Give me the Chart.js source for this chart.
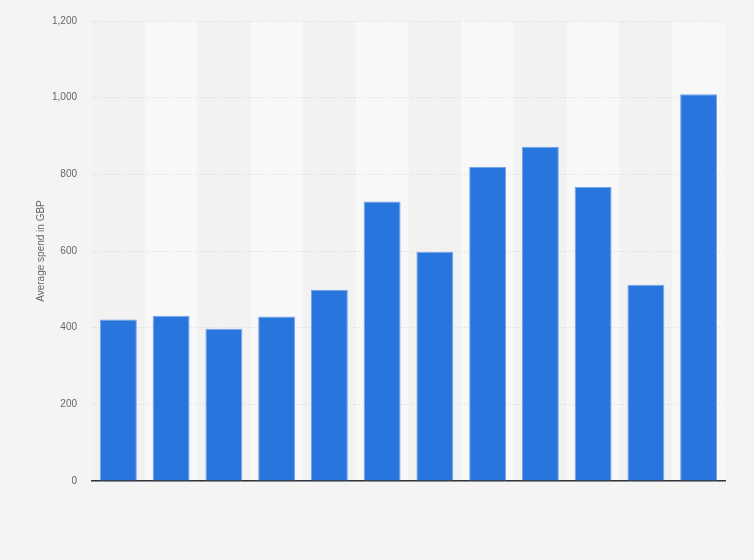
<!DOCTYPE html>
<html>
<head>
<meta charset="utf-8">
<script src="https://cdn.jsdelivr.net/npm/chart.js@4.4.0/dist/chart.umd.min.js"></script>
<style>
html,body{margin:0;padding:0;background:#f4f4f4;}
#wrap{width:754px;height:560px;position:relative;}
</style>
</head>
<body>
<div id="wrap"><canvas id="c" width="754" height="560"></canvas></div>
<script>
const categories = ["1","2","3","4","5","6","7","8","9","10","11","12"];
const values = [421, 431, 397, 429, 499, 729, 598, 820, 872, 767, 512, 1009];
const yTicks = [0, 200, 400, 600, 800, 1000, 1200];
const yTitle = "Average spend in GBP";

const bandPlugin = {
  id: 'bands',
  beforeDraw(chart) {
    const {ctx, chartArea} = chart;
    const n = categories.length;
    const w = (chartArea.right - chartArea.left) / n;
    ctx.save();
    for (let i = 0; i < n; i++) {
      ctx.fillStyle = (i % 2 === 0) ? '#f2f2f2' : '#f8f8f8';
      ctx.fillRect(chartArea.left + i * w, chartArea.top, w, chartArea.bottom - chartArea.top);
    }
    ctx.restore();
  }
};

new Chart(document.getElementById('c'), {
  type: 'bar',
  data: {
    labels: categories,
    datasets: [{
      data: values,
      backgroundColor: '#2876dd',
      borderColor: '#74a4ea',
      borderWidth: 1,
      categoryPercentage: 1.0,
      barPercentage: 0.7
    }]
  },
  plugins: [bandPlugin],
  options: {
    responsive: false,
    animation: false,
    devicePixelRatio: 1,
    layout: {padding: {left: 35, right: 29, top: 20, bottom: 0}},
    plugins: {legend: {display: false}, tooltip: {enabled: false}},
    scales: {
      x: {
        grid: {display: false},
        border: {display: true, color: '#333333', width: 1.5},
        ticks: {display: false},
        afterFit(s) { s.height = 79; }
      },
      y: {
        min: 0, max: 1200,
        afterBuildTicks(s) { s.ticks = yTicks.map(v => ({value: v})); },
        afterFit(s) { s.width = 57; },
        grid: {color: '#d8d8d8', lineWidth: 1, drawTicks: false},
        border: {display: false, dash: [1, 2]},
        ticks: {
          color: '#666666',
          padding: 15,
          font: {family: 'Liberation Sans, Arial, sans-serif', size: 10},
          callback: v => v.toLocaleString('en-US')
        },
        title: {
          display: true,
          text: yTitle,
          color: '#666666',
          font: {family: 'Liberation Sans, Arial, sans-serif', size: 10},
          padding: {top: 0, bottom: 4}
        }
      }
    }
  }
});
</script>
</body>
</html>
